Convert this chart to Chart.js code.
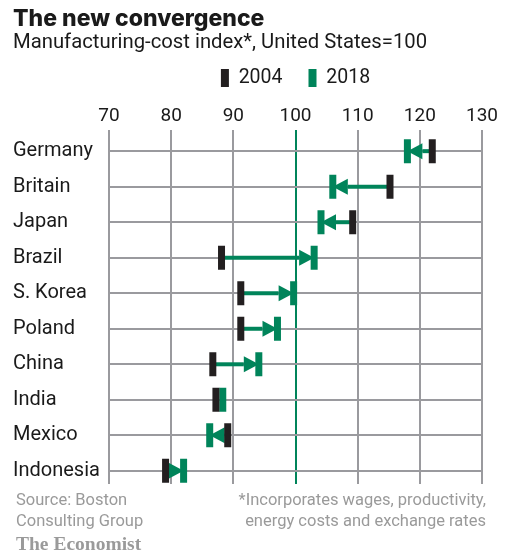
<!DOCTYPE html>
<html>
<head>
<meta charset="utf-8">
<script src="https://cdn.jsdelivr.net/npm/chart.js@4"></script>
<style>
  body { margin: 0; background: #fff; }
  #wrap { position: relative; width: 510px; height: 555px; font-family: Roboto, sans-serif; }
  #wrap canvas { position: absolute; left: 0; top: 0; }
  .note { position: absolute; font-size: 16.5px; line-height: 21px; color: #9a9a9a; }
  #brand { position: absolute; left: 16px; top: 533px; font-family: "Liberation Serif", "DejaVu Serif", serif; font-weight: bold; font-size: 19.5px; color: #9a9a9a; }
</style>
</head>
<body>
<div id="wrap">
  <canvas id="costChart" width="510" height="555"></canvas>
  <div class="note" style="left:16px; top:489px;">Source: Boston<br>Consulting Group</div>
  <div class="note" style="right:24px; top:489px; text-align:right;">*Incorporates wages, productivity,<br>energy costs and exchange rates</div>
  <div id="brand">The Economist</div>
</div>
<script>
// Data
var countries = ['Germany', 'Britain', 'Japan', 'Brazil', 'S. Korea', 'Poland', 'China', 'India', 'Mexico', 'Indonesia'];
var cost2004 = [122, 115.2, 109.2, 88.1, 91.2, 91.2, 86.7, 87.2, 89.1, 79.1];
var cost2018 = [118, 106, 104.1, 103, 99.7, 97.1, 94.1, 88.3, 86.2, 82];
var xTicks = [70, 80, 90, 100, 110, 120, 130];
var years = ['2004', '2018'];

var black = '#231f20';
var green = '#00845a';
var gray = '#9a9a9e';
var ink = '#1a1a1a';

function points(values) {
  return values.map(function(v, i) {
    return { x: v, y: i };
  });
}

// green arrows from 2004 to 2018, drawn under the markers
var arrowPlugin = {
  id: 'arrows',
  beforeDatasetsDraw: function(chart) {
    var ctx = chart.ctx;
    var xs = chart.scales.x;
    var ys = chart.scales.y;
    ctx.save();
    ctx.fillStyle = green;
    ctx.strokeStyle = green;
    ctx.lineWidth = 4;
    countries.forEach(function(c, i) {
      var x0 = xs.getPixelForValue(cost2004[i]);
      var x1 = xs.getPixelForValue(cost2018[i]);
      var y = ys.getPixelForValue(i);
      var dist = Math.abs(x1 - x0);
      if (dist < 10) return;
      var dir = x1 > x0 ? 1 : -1;
      var head = Math.min(15, dist);
      var xb = x1 - dir * head;
      ctx.beginPath();
      ctx.moveTo(x0, y);
      ctx.lineTo(xb, y);
      ctx.stroke();
      ctx.beginPath();
      ctx.moveTo(x1, y);
      ctx.lineTo(xb, y - 8);
      ctx.lineTo(xb, y + 8);
      ctx.closePath();
      ctx.fill();
    });
    ctx.restore();
  }
};

var marker = {
  pointStyle: 'line',
  rotation: 90,
  pointRadius: 12,
  pointHoverRadius: 12,
  pointBorderWidth: 7
};

var ctx = document.getElementById('costChart').getContext('2d');
new Chart(ctx, {
  type: 'scatter',
  data: {
    datasets: [
      Object.assign({ label: years[0], data: points(cost2004), borderColor: black, backgroundColor: black }, marker),
      Object.assign({ label: years[1], data: points(cost2018), borderColor: green, backgroundColor: green }, marker)
    ]
  },
  plugins: [arrowPlugin],
  options: {
    responsive: false,
    animation: false,
    events: [],
    layout: { padding: { left: 13, right: 28, top: 0, bottom: 71 } },
    plugins: {
      title: {
        display: true,
        text: 'The new convergence',
        align: 'start',
        color: ink,
        font: { family: 'Inter', size: 23, weight: 800, lineHeight: 1 },
        padding: { top: 8, bottom: 0 }
      },
      subtitle: {
        display: true,
        text: 'Manufacturing-cost index*, United States=100',
        align: 'start',
        color: ink,
        font: { family: 'Roboto', size: 20.3, lineHeight: 1.15 },
        padding: { top: 0, bottom: -12 }
      },
      legend: {
        position: 'top',
        fullSize: false,
        labels: {
          color: ink,
          boxWidth: 8,
          boxHeight: 18,
          padding: 26,
          font: { family: 'Roboto', size: 19.5 },
          generateLabels: function(chart) {
            return chart.data.datasets.map(function(ds, i) {
              return { text: ds.label, fillStyle: ds.borderColor, strokeStyle: ds.borderColor, lineWidth: 0, hidden: false, datasetIndex: i, fontColor: ink };
            });
          }
        }
      },
      tooltip: { enabled: false }
    },
    scales: {
      x: {
        type: 'linear',
        position: 'top',
        min: xTicks[0],
        max: xTicks[xTicks.length - 1],
        afterBuildTicks: function(scale) {
          scale.ticks = xTicks.map(function(v) { return { value: v }; });
        },
        afterFit: function(scale) { scale.height = 32; },
        border: { display: false },
        grid: {
          drawTicks: false,
          lineWidth: 2,
          color: function(c) { return c.tick && c.tick.value === 100 ? green : gray; }
        },
        ticks: { color: ink, padding: 2, maxRotation: 0, font: { family: 'Roboto', size: 19 } }
      },
      y: {
        type: 'linear',
        reverse: true,
        min: -0.6,
        max: 9.37,
        afterBuildTicks: function(scale) {
          scale.ticks = countries.map(function(c, i) { return { value: i }; });
        },
        afterFit: function(scale) { scale.width = 96; },
        border: { display: false },
        grid: { drawTicks: false, lineWidth: 2, color: gray },
        ticks: {
          crossAlign: 'far',
          color: ink,
          font: { family: 'Roboto', size: 20 },
          callback: function(v) { return countries[v]; }
        }
      }
    }
  }
});
</script>
</body>
</html>
